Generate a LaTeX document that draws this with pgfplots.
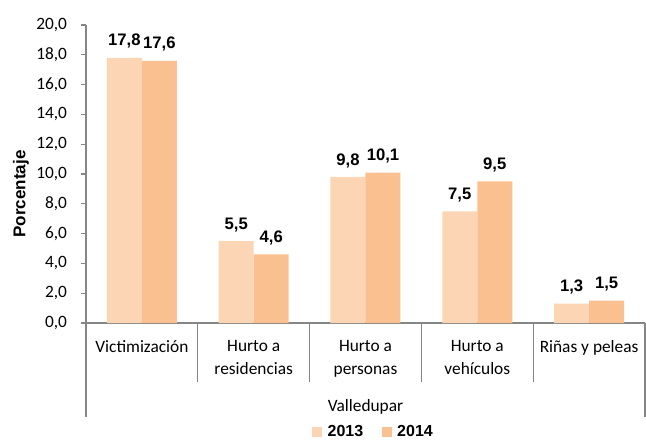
\documentclass[border=0pt]{standalone}
\usepackage{fontspec}
\setmainfont{Carlito}
\newfontfamily\arialf{Liberation Sans}
\usepackage{pgfplots}
\pgfplotsset{compat=1.18}
\definecolor{c13}{HTML}{FCD5B5}
\definecolor{c14}{HTML}{FAC090}
\definecolor{axg}{HTML}{868686}
\begin{document}
\begin{tikzpicture}
\useasboundingbox (-64.5pt,-87.75pt) rectangle (420pt,242.25pt);
\begin{axis}[
  at={(0,0)}, anchor=south west,
  scale only axis, width=419.25pt, height=223.5pt,
  xmin=-0.5, xmax=4.5, ymin=0, ymax=20,
  ybar=0pt, bar width=26.25pt,
  axis x line=bottom, axis y line=left,
  axis line style={draw=axg, line width=0.8pt, -},
  ytick={0,2,...,20},
  tick align=outside, major tick length=3.75pt,
  ytick style={draw=axg, line width=0.8pt},
  xtick={0,1,2,3,4},
  xtick style={draw=none},
  xticklabels={Victimización, {Hurto a\\residencias}, {Hurto a\\personas}, {Hurto a\\vehículos}, {Riñas y peleas}},
  xticklabel style={align=center, anchor=north, yshift=-6pt, font=\fontsize{13}{16.8}\selectfont},
  yticklabel style={font=\fontsize{13}{15}\selectfont, xshift=-7pt},
  yticklabel={\pgfmathprintnumber[fixed, fixed zerofill, precision=1, use comma, assume math mode=true]{\tick}},
  ylabel={\arialf\bfseries Porcentaje},
  ylabel style={font=\fontsize{12.8}{14}\selectfont, at={(axis description cs:-0.1163,0.433)}, anchor=center, rotate=0},
  nodes near coords,
  nodes near coords style={yshift=3.5pt, font=\arialf\bfseries\fontsize{12.5}{14}\selectfont, /pgf/number format/.cd, fixed, fixed zerofill, precision=1, use comma, assume math mode=true},
  clip=false,
  legend columns=2,
  legend style={draw=none, at={(0.515,-0.325)}, anchor=north, font=\arialf\bfseries\fontsize{12}{14}\selectfont, column sep=2pt, /tikz/every even column/.append style={column sep=12pt}},
  legend image code/.code={\fill[#1] (0pt,-3.75pt) rectangle (7.5pt,3.75pt);},
]
\addplot[draw=none, fill=c13] coordinates {(0,17.8) (1,5.5) (2,9.8) (3,7.5) (4,1.3)};
\addplot[draw=none, fill=c14] coordinates {(0,17.6) (1,4.6) (2,10.1) (3,9.5) (4,1.5)};
\legend{2013,2014}
\foreach \x in {0.5,1.5,2.5,3.5} {
  \edef\tmp{\noexpand\draw[axg, line width=0.8pt] (axis cs:\x,0) -- ([yshift=-44.25pt]axis cs:\x,0);}\tmp
}
\draw[axg, line width=0.8pt] (axis cs:-0.5,0) -- ([yshift=-70.5pt]axis cs:-0.5,0);
\draw[axg, line width=0.8pt] (axis cs:4.5,0) -- ([yshift=-70.5pt]axis cs:4.5,0);
\node[font=\fontsize{13}{15}\selectfont, anchor=base] at (axis cs:2,0) [yshift=-66pt] {Valledupar};
\end{axis}
\end{tikzpicture}
\end{document}
